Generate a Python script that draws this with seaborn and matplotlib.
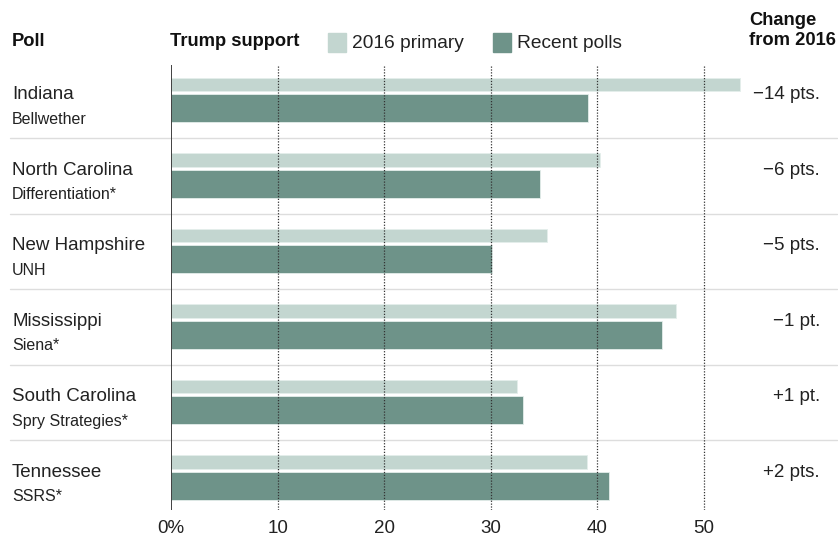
import numpy as np
import pandas as pd
import seaborn as sns
import matplotlib.pyplot as plt
from matplotlib.transforms import blended_transform_factory
from matplotlib.patches import Rectangle

# ---- data ----
states = ["Indiana", "North Carolina", "New Hampshire", "Mississippi",
          "South Carolina", "Tennessee"]
pollsters = ["Bellwether", "Differentiation*", "UNH", "Siena*",
             "Spry Strategies*", "SSRS*"]
primary_2016 = [53.4, 40.2, 35.3, 47.4, 32.5, 39.0]
recent_polls = [39.1, 34.6, 30.1, 46.1, 33.0, 41.1]
changes = ["\u221214 pts.", "\u22126 pts.", "\u22125 pts.", "\u22121 pt.",
           "+1 pt.", "+2 pts."]
ticks = [0, 10, 20, 30, 40, 50]
tick_labels = ["0%", "10", "20", "30", "40", "50"]

# ---- style ----
sns.set_theme(style="white")
plt.rcParams["font.family"] = ["Liberation Sans", "DejaVu Sans"]
light = "#c3d6d0"
dark = "#6e9389"
txt = "#222222"

W, H = 838, 537
fig = plt.figure(figsize=(W / 100, H / 100), dpi=100)
ax = fig.add_axes([171 / W, 1 - 510 / H, 1 - 171 / W, (510 - 65) / H])

rows = np.arange(len(states))
df = pd.DataFrame({"state": states, "primary": primary_2016,
                   "recent": recent_polls, "row": rows})

sns.barplot(x=df["primary"], y=df["row"] - 0.209, orient="y", native_scale=True,
            width=0.18, color=light, saturation=1, ax=ax,
            edgecolor="#e4eeeb", linewidth=0.6)
sns.barplot(x=df["recent"], y=df["row"] + 0.103, orient="y", native_scale=True,
            width=0.37, color=dark, saturation=1, ax=ax,
            edgecolor="#e4eeeb", linewidth=0.6)

ax.set_xlim(0, (W - 171) / 10.66)
ax.set_ylim(len(states) - 0.573, -0.467)

for t in ticks[1:]:
    ax.axvline(t, color="#333333", ls=(0, (1, 1.3)), lw=0.9, zorder=3)
ax.axvline(0, color="#333333", lw=1.3, zorder=4)

for s in ax.spines.values():
    s.set_visible(False)
ax.set_xticks(ticks, tick_labels)
ax.set_yticks([])
ax.set_xlabel("")
ax.set_ylabel("")
ax.tick_params(axis="x", length=0, pad=7, labelsize=13.5, labelcolor=txt)
ax.grid(False)

blend = blended_transform_factory(fig.transFigure, ax.transData)
for k in range(len(states) - 1):
    ax.plot([10 / W, 837 / W], [k + 0.5, k + 0.5], transform=blend,
            color="#dddddd", lw=1, clip_on=False, zorder=0)

for k in rows:
    ax.text(12 / W, k - 0.075, states[k], transform=blend, ha="left",
            va="center", fontsize=13.5, color=txt)
    ax.text(12 / W, k + 0.252, pollsters[k], transform=blend, ha="left",
            va="center", fontsize=11.5, color=txt)
    ax.text(820 / W, k - 0.075, changes[k], transform=blend, ha="right",
            va="center", fontsize=13.5, color=txt)

# header
fig.text(12 / W, 1 - 42 / H, "Poll", ha="left", va="center", fontsize=13.2,
         fontweight="bold", color="#111111")
fig.text(170 / W, 1 - 42 / H, "Trump support", ha="left", va="center",
         fontsize=13.2, fontweight="bold", color="#111111")
fig.text(836 / W, 1 - 30.5 / H, "Change\nfrom 2016", ha="right", va="center",
         multialignment="left", fontsize=13.2, fontweight="bold",
         color="#111111", linespacing=1.2)

fig.add_artist(Rectangle((328 / W, 1 - 52 / H), 18 / W, 19 / H,
                         transform=fig.transFigure, color=light))
fig.text(352 / W, 1 - 43 / H, "2016 primary", ha="left", va="center",
         fontsize=13.8, color=txt)
fig.add_artist(Rectangle((493 / W, 1 - 52 / H), 18 / W, 19 / H,
                         transform=fig.transFigure, color=dark))
fig.text(517 / W, 1 - 43 / H, "Recent polls", ha="left", va="center",
         fontsize=13.8, color=txt)

fig.savefig("out.png", dpi=100)
